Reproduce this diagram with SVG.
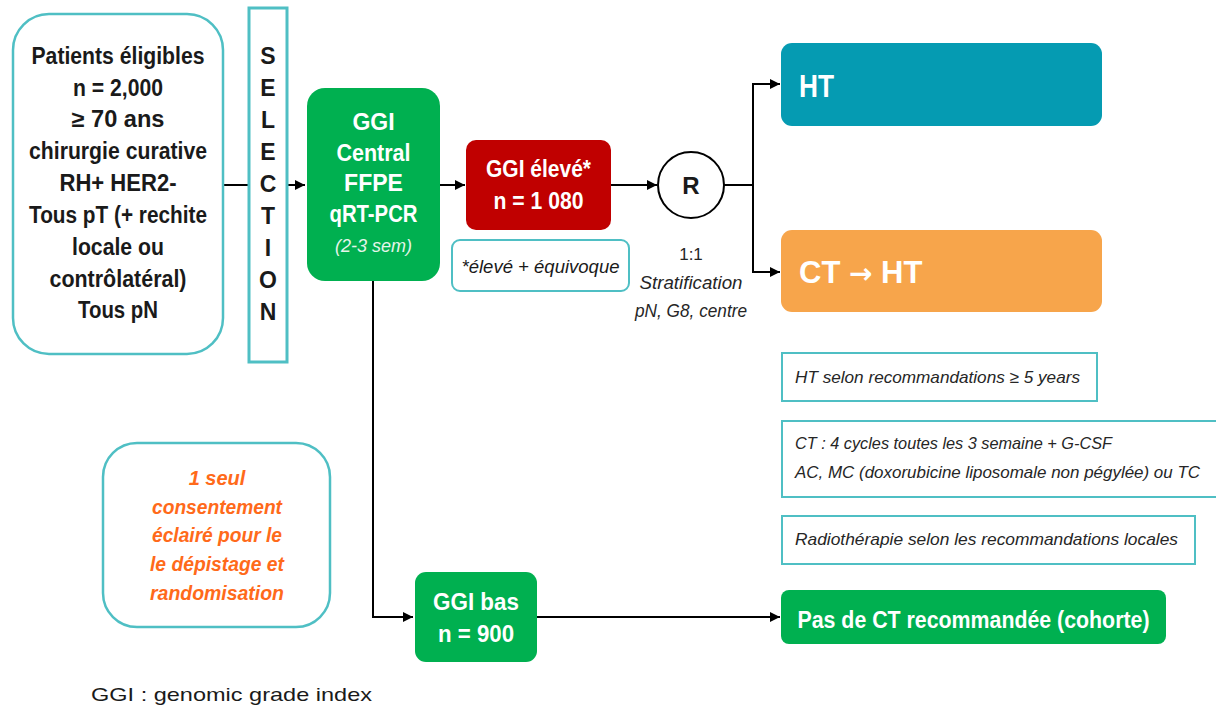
<svg xmlns="http://www.w3.org/2000/svg" width="1216" height="707" viewBox="0 0 1216 707">
<defs>
<marker id="arr" markerWidth="12" markerHeight="12" refX="10" refY="6" orient="auto" markerUnits="userSpaceOnUse">
<path d="M0,1 L10,6 L0,11 Z" fill="#000"/>
</marker>
<style>
.tb{fill:none;stroke:#4fbfc4;stroke-width:2.5}
.bn{font-family:"Liberation Sans Narrow","Liberation Sans",Arial,sans-serif;font-weight:bold;text-anchor:middle}
.blk{fill:#1a1a1a;font-size:23px}
.wh{fill:#fff}
.it{font-family:"Liberation Sans",Arial,sans-serif;font-style:italic;fill:#262626}
.ln{fill:none;stroke:#000;stroke-width:2}
</style>
</defs>
<rect width="1216" height="707" fill="#fff"/>

<g id="connectors">
<line class="ln" x1="223" y1="185" x2="249" y2="185"/>
<line class="ln" x1="287" y1="185" x2="305" y2="185" marker-end="url(#arr)"/>
<line class="ln" x1="440" y1="185" x2="465" y2="185" marker-end="url(#arr)"/>
<line class="ln" x1="611" y1="185" x2="657" y2="185" marker-end="url(#arr)"/>
<polyline class="ln" points="724,185 753,185"/>
<line class="ln" x1="753" y1="83" x2="753" y2="273"/>
<line class="ln" x1="752" y1="84" x2="780" y2="84" marker-end="url(#arr)"/>
<line class="ln" x1="752" y1="272" x2="780" y2="272" marker-end="url(#arr)"/>
<polyline class="ln" points="373,281 373,617 413,617" marker-end="url(#arr)"/>
<line class="ln" x1="537" y1="617" x2="780" y2="617" marker-end="url(#arr)"/>
</g>

<g id="patients">
<rect class="tb" x="13" y="14" width="210" height="340" rx="36"/>
<text class="bn blk" x="118" y="64" textLength="173" lengthAdjust="spacingAndGlyphs">Patients éligibles</text>
<text class="bn blk" x="118" y="96" textLength="90" lengthAdjust="spacingAndGlyphs">n = 2,000</text>
<text class="bn blk" x="118" y="127" textLength="93" lengthAdjust="spacingAndGlyphs">≥ 70 ans</text>
<text class="bn blk" x="118" y="159" textLength="178" lengthAdjust="spacingAndGlyphs">chirurgie curative</text>
<text class="bn blk" x="118" y="191" textLength="117" lengthAdjust="spacingAndGlyphs">RH+ HER2-</text>
<text class="bn blk" x="118" y="223" textLength="178" lengthAdjust="spacingAndGlyphs">Tous pT (+ rechite</text>
<text class="bn blk" x="118" y="255" textLength="92" lengthAdjust="spacingAndGlyphs">locale ou</text>
<text class="bn blk" x="118" y="287" textLength="137" lengthAdjust="spacingAndGlyphs">contrôlatéral)</text>
<text class="bn blk" x="118" y="318" textLength="80" lengthAdjust="spacingAndGlyphs">Tous pN</text>
</g>

<g id="selection">
<rect x="249" y="8" width="38" height="354" fill="none" stroke="#4fbfc4" stroke-width="3"/>
<text class="bn blk" x="268" y="64">S</text>
<text class="bn blk" x="268" y="96">E</text>
<text class="bn blk" x="268" y="128">L</text>
<text class="bn blk" x="268" y="160">E</text>
<text class="bn blk" x="268" y="192">C</text>
<text class="bn blk" x="268" y="224">T</text>
<text class="bn blk" x="268" y="256">I</text>
<text class="bn blk" x="268" y="288">O</text>
<text class="bn blk" x="268" y="320">N</text>
</g>

<g id="ggi-central">
<rect x="307" y="88" width="133" height="193" rx="18" fill="#00b050"/>
<text class="bn wh" x="373.5" y="130" font-size="23">GGI</text>
<text class="bn wh" x="373.5" y="161" font-size="23" textLength="74" lengthAdjust="spacingAndGlyphs">Central</text>
<text class="bn wh" x="373.5" y="191" font-size="23">FFPE</text>
<text class="bn wh" x="373.5" y="222" font-size="23" textLength="88" lengthAdjust="spacingAndGlyphs">qRT-PCR</text>
<text x="373.5" y="252" font-size="18" text-anchor="middle" fill="#e6f5ea" font-family="'Liberation Sans Narrow','Liberation Sans',Arial,sans-serif" font-style="italic">(2-3 sem)</text>
</g>

<g id="ggi-eleve">
<rect x="466" y="140" width="145" height="90" rx="10" fill="#c00000"/>
<text class="bn wh" x="538.5" y="177" font-size="23" textLength="105" lengthAdjust="spacingAndGlyphs">GGI élevé*</text>
<text class="bn wh" x="538.5" y="209" font-size="23" textLength="90" lengthAdjust="spacingAndGlyphs">n = 1 080</text>
</g>

<g id="note-equivoque">
<rect x="452" y="240" width="177" height="51" rx="8" fill="none" stroke="#4fbfc4" stroke-width="2"/>
<text x="540.5" y="273" font-size="18" text-anchor="middle" fill="#1a1a1a" font-family="'Liberation Sans Narrow','Liberation Sans',Arial,sans-serif" font-style="italic" textLength="158" lengthAdjust="spacingAndGlyphs">*élevé + équivoque</text>
</g>

<g id="randomisation">
<circle cx="691" cy="185" r="33" fill="#fff" stroke="#000" stroke-width="2"/>
<text class="bn" x="691" y="194" font-size="24" fill="#1a1a1a">R</text>
<text x="691" y="260" font-size="17" text-anchor="middle" fill="#262626" font-family="'Liberation Sans',Arial,sans-serif">1:1</text>
<text class="it" x="691" y="289" font-size="18" text-anchor="middle" textLength="103" lengthAdjust="spacingAndGlyphs">Stratification</text>
<text class="it" x="691" y="317" font-size="18" text-anchor="middle" textLength="112" lengthAdjust="spacingAndGlyphs">pN, G8, centre</text>
</g>

<g id="arm-ht">
<rect x="781" y="43" width="321" height="83" rx="11" fill="#059bb2"/>
<text x="799" y="97" font-size="31" font-weight="bold" fill="#fff" font-family="'Liberation Sans',Arial,sans-serif" textLength="35" lengthAdjust="spacingAndGlyphs">HT</text>
</g>

<g id="arm-ct-ht">
<rect x="781" y="230" width="321" height="82" rx="11" fill="#f7a54b"/>
<text x="799" y="283" font-size="31" font-weight="bold" fill="#fff" font-family="'Liberation Sans',Arial,sans-serif">CT <tspan font-family="'DejaVu Sans',sans-serif" font-size="28">→</tspan> HT</text>
</g>

<g id="info-ht">
<rect x="782" y="353" width="315" height="48" fill="none" stroke="#4fbfc4" stroke-width="2"/>
<text class="it" x="795" y="383" font-size="17" textLength="285" lengthAdjust="spacingAndGlyphs">HT selon recommandations ≥ 5 years</text>
</g>

<g id="info-ct">
<rect x="782" y="421" width="436" height="76" fill="none" stroke="#4fbfc4" stroke-width="2"/>
<text class="it" x="795" y="449" font-size="17" textLength="317" lengthAdjust="spacingAndGlyphs">CT : 4 cycles toutes les 3 semaine + G-CSF</text>
<text class="it" x="795" y="478" font-size="17" textLength="405" lengthAdjust="spacingAndGlyphs">AC, MC (doxorubicine liposomale non pégylée) ou TC</text>
</g>

<g id="info-radio">
<rect x="782" y="516" width="413" height="48" fill="none" stroke="#4fbfc4" stroke-width="2"/>
<text class="it" x="795" y="545" font-size="17" textLength="383" lengthAdjust="spacingAndGlyphs">Radiothérapie selon les recommandations locales</text>
</g>

<g id="consent">
<rect class="tb" x="103" y="443" width="227" height="184" rx="34"/>
<g font-family="'Liberation Sans Narrow','Liberation Sans',Arial,sans-serif" font-weight="bold" font-style="italic" font-size="20" fill="#ff6a1a" text-anchor="middle">
<text x="217" y="485">1 seul</text>
<text x="217" y="514" textLength="130" lengthAdjust="spacingAndGlyphs">consentement</text>
<text x="217" y="542" textLength="130" lengthAdjust="spacingAndGlyphs">éclairé pour le</text>
<text x="217" y="571" textLength="134" lengthAdjust="spacingAndGlyphs">le dépistage et</text>
<text x="217" y="600" textLength="134" lengthAdjust="spacingAndGlyphs">randomisation</text>
</g>
</g>

<g id="ggi-bas">
<rect x="415" y="572" width="122" height="90" rx="11" fill="#00b050"/>
<text class="bn wh" x="476" y="610" font-size="23" textLength="86" lengthAdjust="spacingAndGlyphs">GGI bas</text>
<text class="bn wh" x="476" y="642" font-size="23" textLength="76" lengthAdjust="spacingAndGlyphs">n = 900</text>
</g>

<g id="cohorte">
<rect x="781" y="590" width="385" height="54" rx="8" fill="#00b050"/>
<text class="bn wh" x="973.5" y="628" font-size="23" textLength="352" lengthAdjust="spacingAndGlyphs">Pas de CT recommandée (cohorte)</text>
</g>

<text x="91" y="701" font-size="19" fill="#1a1a1a" font-family="'Liberation Sans',Arial,sans-serif" textLength="281" lengthAdjust="spacingAndGlyphs">GGI : genomic grade index</text>
</svg>
